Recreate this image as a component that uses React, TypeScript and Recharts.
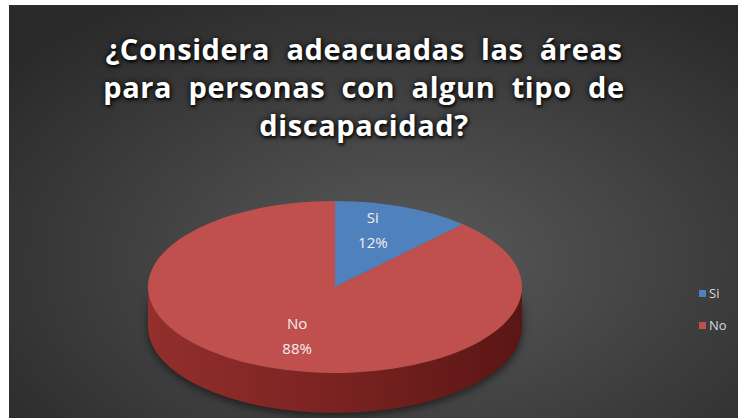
import { PieChart, Pie, Cell, Legend } from 'recharts'

const categories = ['Si', 'No']
const shares = [12, 88]

const sliceColors = ['#4f81bd', '#c0504d']
const titleLines = ['¿Considera  adeacuadas  las  áreas', 'para  personas  con  algun  tipo  de', 'discapacidad?']

const data = categories.map((name, i) => ({ name, value: shares[i] }))

// la torta se ve inclinada: elipse + pared lateral
const TILT = 0.46
const DEPTH = 40

function pt(cx: number, cy: number, rx: number, ry: number, deg: number) {
  const r = (deg * Math.PI) / 180
  return [cx + rx * Math.cos(r), cy - ry * Math.sin(r)]
}

function Slice3D(props: any) {
  const { cx, cy, outerRadius, startAngle, endAngle, fill, payload } = props
  const rx = outerRadius
  const ry = outerRadius * TILT
  const a0 = Math.max(startAngle, endAngle)
  const a1 = Math.min(startAngle, endAngle)
  const [sx, sy] = pt(cx, cy, rx, ry, a0)
  const [ex, ey] = pt(cx, cy, rx, ry, a1)
  const large = a0 - a1 > 180 ? 1 : 0
  const top = `M${cx},${cy} L${sx},${sy} A${rx},${ry} 0 ${large} 1 ${ex},${ey} Z`

  const sides: string[] = []
  for (const k of [-360, 0, 360]) {
    const b0 = Math.min(a0, k)
    const b1 = Math.max(a1, k - 180)
    if (b0 <= b1) continue
    const [x0, y0] = pt(cx, cy, rx, ry, b0)
    const [x1, y1] = pt(cx, cy, rx, ry, b1)
    const lg = b0 - b1 > 180 ? 1 : 0
    sides.push(
      `M${x0},${y0} A${rx},${ry} 0 ${lg} 1 ${x1},${y1} L${x1},${y1 + DEPTH} A${rx},${ry} 0 ${lg} 0 ${x0},${y0 + DEPTH} Z`
    )
  }
  const id = `side-${payload?.name ?? 'x'}`
  return (
    <g>
      <defs>
        <linearGradient id={id} x1="0" x2="1" y1="0" y2="0">
          <stop offset="0%" stopColor="#932f2d" />
          <stop offset="50%" stopColor="#7a2321" />
          <stop offset="100%" stopColor="#5a1615" />
        </linearGradient>
      </defs>
      <g style={{ filter: 'drop-shadow(0px 3px 4px rgba(0,0,0,0.55))' }}>
        {sides.map((d, i) => (
          <path key={i} d={d} fill={`url(#${id})`} />
        ))}
      </g>
      <path d={top} fill={fill} />
    </g>
  )
}

function SliceLabel(props: any) {
  const { cx, cy, midAngle, outerRadius, name, percent } = props
  const r = (midAngle * Math.PI) / 180
  const x = cx + outerRadius * 0.55 * Math.cos(r)
  const y = cy - outerRadius * TILT * 0.66 * Math.sin(r)
  return (
    <text x={x} y={y} textAnchor="middle" fill="#f4eeee" fontSize={15} fontFamily="'Open Sans', sans-serif">
      <tspan x={x} dy={-11}>{name}</tspan>
      <tspan x={x} dy={25}>{`${Math.round(percent * 100)}%`}</tspan>
    </text>
  )
}

function LegendList({ payload }: any) {
  const items = [...(payload ?? [])].sort(
    (a: any, b: any) => categories.indexOf(a.value) - categories.indexOf(b.value)
  )
  return (
    <div>
      {items.map((p: any) => (
        <div
          key={p.value}
          style={{ display: 'flex', alignItems: 'center', height: 32, color: '#d9d9d9', fontSize: 13, fontFamily: "'Open Sans', sans-serif" }}
        >
          <span style={{ width: 7, height: 7, background: p.color, marginRight: 3 }} />
          {p.value}
        </div>
      ))}
    </div>
  )
}

export default function App() {
  return (
    <div
      style={{
        position: 'absolute',
        left: 9,
        top: 5,
        width: 729,
        height: 413,
        background: 'radial-gradient(ellipse 70% 75% at 55% 62%, #5a5a5a 0%, #474747 40%, #2a2a2a 100%)',
        overflow: 'hidden',
      }}
    >
      <div
        style={{
          position: 'absolute',
          left: 0,
          top: 25,
          width: 710,
          textAlign: 'center',
          color: '#ffffff',
          fontFamily: "'Open Sans', sans-serif",
          fontWeight: 700,
          fontSize: 29,
          lineHeight: '38px',
          letterSpacing: 0.6,
          whiteSpace: 'pre',
          textShadow: '0 0 6px rgba(0,0,0,0.9), 1px 2px 3px rgba(0,0,0,0.8)',
        }}
      >
        {titleLines.map((l) => (
          <div key={l}>{l}</div>
        ))}
      </div>
      <PieChart width={729} height={413} style={{ position: 'absolute', left: 0, top: 0 }}>
        <Pie
          data={data}
          dataKey="value"
          nameKey="name"
          cx={321}
          cy={277}
          outerRadius={187}
          startAngle={90}
          endAngle={-270}
          stroke="none"
          isAnimationActive={false}
          labelLine={false}
          label={SliceLabel}
          shape={Slice3D}
          activeShape={Slice3D}
          inactiveShape={Slice3D}
        >
          {data.map((d, i) => (
            <Cell key={d.name} fill={sliceColors[i]} />
          ))}
        </Pie>
        <Legend
          layout="vertical"
          align="right"
          verticalAlign="top"
          content={LegendList}
          wrapperStyle={{ left: 690, top: 272, width: 40 }}
        />
      </PieChart>
    </div>
  )
}
